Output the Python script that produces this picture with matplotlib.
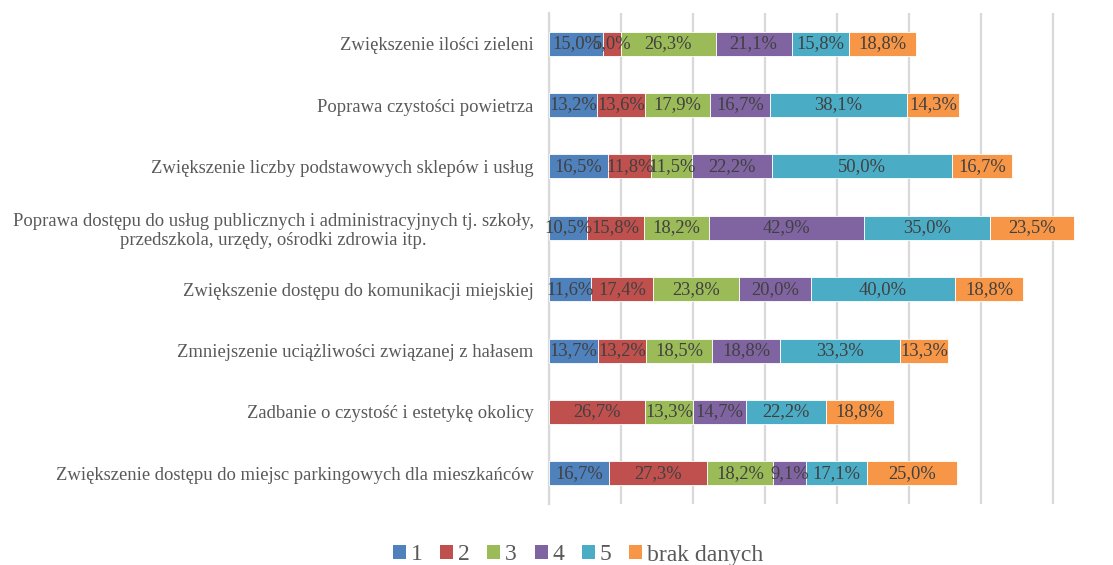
import matplotlib
matplotlib.use("Agg")
import matplotlib.pyplot as plt
from matplotlib.patches import Patch

categories = [
    "Zwiększenie ilości zieleni",
    "Poprawa czystości powietrza",
    "Zwiększenie liczby podstawowych sklepów i usług",
    "Poprawa dostępu do usług publicznych i administracyjnych tj. szkoły,\nprzedszkola, urzędy, ośrodki zdrowia itp.",
    "Zwiększenie dostępu do komunikacji miejskiej",
    "Zmniejszenie uciążliwości związanej z hałasem",
    "Zadbanie o czystość i estetykę okolicy",
    "Zwiększenie dostępu do miejsc parkingowych dla mieszkańców",
]
series_names = ["1", "2", "3", "4", "5", "brak danych"]
s1 = [15.0, 13.2, 16.5, 10.5, 11.6, 13.7, 0.0, 16.7]
s2 = [5.0, 13.6, 11.8, 15.8, 17.4, 13.2, 26.7, 27.3]
s3 = [26.3, 17.9, 11.5, 18.2, 23.8, 18.5, 13.3, 18.2]
s4 = [21.1, 16.7, 22.2, 42.9, 20.0, 18.8, 14.7, 9.1]
s5 = [15.8, 38.1, 50.0, 35.0, 40.0, 33.3, 22.2, 17.1]
s6 = [18.8, 14.3, 16.7, 23.5, 18.8, 13.3, 18.8, 25.0]
series = [s1, s2, s3, s4, s5, s6]
colors = ["#4F81BD", "#C0504D", "#9BBB59", "#8064A2", "#4BACC6", "#F79646"]

plt.rcParams["font.family"] = ["Liberation Serif", "DejaVu Serif"]

fig = plt.figure(figsize=(11.13, 5.65), dpi=100)
ax = fig.add_axes([549 / 1113, 1 - 504 / 565, (1089 - 549) / 1113, 491 / 565])

n = len(categories)
ypos = list(range(n))
left = [0.0] * n
for vals, col in zip(series, colors):
    ax.barh(ypos, vals, left=left, height=0.39, color=col,
            edgecolor="white", linewidth=0.6, zorder=3)
    for y, v, l in zip(ypos, vals, left):
        if v > 0:
            ax.text(l + v / 2, y, f"{v:.1f}%".replace(".", ","),
                    ha="center", va="center", fontsize=13.3,
                    color="#404040", zorder=4)
    left = [a + b for a, b in zip(left, vals)]

ax.set_xlim(0, 150)
ax.set_ylim(n - 0.5, -0.5)
ax.set_xticks(range(0, 141, 20))
ax.set_xticklabels([])
ax.tick_params(axis="x", length=0)
ax.tick_params(axis="y", length=0, pad=11)
ax.set_yticks(ypos)
ax.set_yticklabels(categories, fontsize=13.4, color="#595959",
                   multialignment="center")
ax.grid(axis="x", color="#d9d9d9", linewidth=1.6, zorder=0)
for side in ["top", "right", "bottom"]:
    ax.spines[side].set_visible(False)
ax.spines["left"].set_color("#d9d9d9")
ax.spines["left"].set_linewidth(1.6)

handles = [Patch(facecolor=c, edgecolor="none") for c in colors]
fig.legend(handles, series_names, loc="center", bbox_to_anchor=(578 / 1113, 1 - 555 / 565),
           ncol=6, frameon=False, fontsize=17, handlelength=0.55, handleheight=0.55,
           handletextpad=0.2, columnspacing=0.75, labelcolor="#595959")

fig.savefig("out.png", dpi=100)
